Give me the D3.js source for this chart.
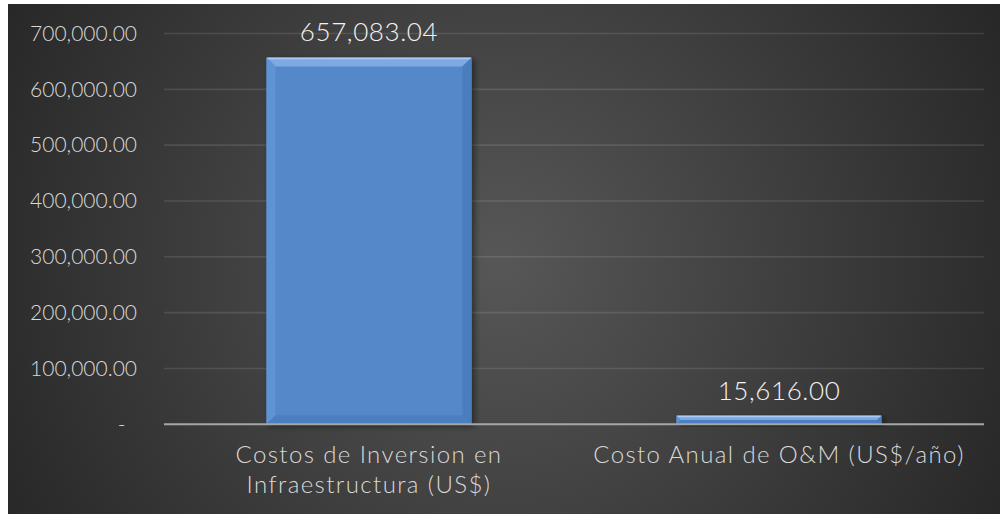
<!DOCTYPE html>
<html>
<head>
<meta charset="utf-8">
<script src="https://cdn.jsdelivr.net/npm/d3@7"></script>
<style>
  html, body { margin: 0; padding: 0; background: #ffffff; }
  svg { display: block; }
  text { font-family: "Lato", "Noto Sans", sans-serif; font-weight: 300; }
</style>
</head>
<body>
<svg id="chart" width="1000" height="514"></svg>
<script>
// Cost categories and their amounts
const categories = [
  ["Costos de Inversion en", "Infraestructura (US$)"],
  ["Costo Anual de O&M (US$/año)"]
];
const values = [657083.04, 15616.00];
const tickValues = [0, 100000, 200000, 300000, 400000, 500000, 600000, 700000];

const W = 1000, H = 514;
const frame = { x: 8, y: 4 };
const plot = { left: 164, right: 984, top: 33.5, bottom: 424.3 };

const svg = d3.select("#chart");
const defs = svg.append("defs");

// Dark radial background
const bg = defs.append("radialGradient")
  .attr("id", "bgGrad")
  .attr("gradientUnits", "userSpaceOnUse")
  .attr("cx", 500).attr("cy", 262).attr("r", 600);
bg.append("stop").attr("offset", "0%").attr("stop-color", "#575757");
bg.append("stop").attr("offset", "100%").attr("stop-color", "#242424");

// Soft shadow under the bars
const sh = defs.append("filter").attr("id", "barShadow")
  .attr("x", "-10%").attr("y", "-10%").attr("width", "130%").attr("height", "130%");
sh.append("feDropShadow").attr("dx", 3).attr("dy", 2).attr("stdDeviation", 3)
  .attr("flood-color", "#000").attr("flood-opacity", 0.45);

svg.append("rect")
  .attr("x", frame.x).attr("y", frame.y)
  .attr("width", W - frame.x).attr("height", H - frame.y)
  .attr("fill", "url(#bgGrad)");

const x = d3.scaleBand()
  .domain(d3.range(categories.length))
  .range([plot.left, plot.right])
  .paddingInner(0.5)
  .paddingOuter(0.25);

const y = d3.scaleLinear()
  .domain([0, 700000])
  .range([plot.bottom, plot.top]);

// Horizontal gridlines
svg.append("g")
  .selectAll("line")
  .data(tickValues.filter(d => d > 0))
  .join("line")
  .attr("x1", plot.left).attr("x2", plot.right)
  .attr("y1", d => y(d)).attr("y2", d => y(d))
  .attr("stroke", "rgba(255,255,255,0.11)")
  .attr("stroke-width", 1.6);

// Value axis labels
const fmt = d3.format(",.2f");
const yAxis = d3.axisLeft(y)
  .tickValues(tickValues)
  .tickSize(0)
  .tickPadding(0)
  .tickFormat(d => d === 0 ? "-\u00A0\u00A0" : fmt(d));

const gy = svg.append("g")
  .attr("transform", `translate(${137},0)`)
  .call(yAxis);
gy.select(".domain").remove();
gy.selectAll("text")
  .attr("fill", "#d9d9d9")
  .attr("font-size", 21)
  .style("font-family", "Lato, 'Noto Sans', sans-serif")
  .style("font-weight", 300);

// Bars with bevelled edges
const bars = svg.append("g").selectAll("g.bar")
  .data(values)
  .join("g")
  .attr("class", "bar")
  .attr("filter", "url(#barShadow)");

bars.each(function(v, i) {
  const g = d3.select(this);
  const x0 = x(i), x1 = x(i) + x.bandwidth();
  const y0 = y(v), y1 = y(0);
  const b = Math.min(9, (y1 - y0) / 2, (x1 - x0) / 2);
  g.append("rect")
    .attr("x", x0).attr("y", y0)
    .attr("width", x1 - x0).attr("height", y1 - y0)
    .attr("fill", "#5488c8");
  // top facet
  g.append("polygon")
    .attr("points", [[x0, y0], [x1, y0], [x1 - b, y0 + b], [x0 + b, y0 + b]].join(" "))
    .attr("fill", "#7eaae4");
  // left facet
  g.append("polygon")
    .attr("points", [[x0, y0], [x0 + b, y0 + b], [x0 + b, y1 - b], [x0, y1]].join(" "))
    .attr("fill", "#5f93d4");
  // right facet
  g.append("polygon")
    .attr("points", [[x1, y0], [x1 - b, y0 + b], [x1 - b, y1 - b], [x1, y1]].join(" "))
    .attr("fill", "#4a7dbd");
  // bottom facet
  g.append("polygon")
    .attr("points", [[x0, y1], [x0 + b, y1 - b], [x1 - b, y1 - b], [x1, y1]].join(" "))
    .attr("fill", "#4c7fbf");
  // edge highlight
  g.append("line")
    .attr("x1", x0 + 1).attr("x2", x1 - 1)
    .attr("y1", y0 + 1).attr("y2", y0 + 1)
    .attr("stroke", "#a9cbf5").attr("stroke-width", 1.5);
});

// Category axis line
svg.append("line")
  .attr("x1", plot.left).attr("x2", plot.right)
  .attr("y1", y(0)).attr("y2", y(0))
  .attr("stroke", "#a6a6a6").attr("stroke-width", 2);

// Data labels
svg.append("g").selectAll("text")
  .data(values)
  .join("text")
  .attr("x", (d, i) => x(i) + x.bandwidth() / 2)
  .attr("y", d => y(d) - 16)
  .attr("text-anchor", "middle")
  .attr("fill", "#f2f2f2")
  .attr("font-size", 26)
  .attr("letter-spacing", 0.6)
  .text(d => fmt(d));

// Category labels
const cat = svg.append("g").selectAll("text")
  .data(categories)
  .join("text")
  .attr("x", (d, i) => x(i) + x.bandwidth() / 2)
  .attr("y", 463)
  .attr("text-anchor", "middle")
  .attr("fill", "#d9d9d9")
  .attr("font-size", 24)
  .attr("letter-spacing", 1.4);
cat.selectAll("tspan")
  .data(d => d)
  .join("tspan")
  .attr("x", function() { return d3.select(this.parentNode).attr("x"); })
  .attr("dy", (d, j) => j === 0 ? 0 : 30)
  .text(d => d);
</script>
</body>
</html>
